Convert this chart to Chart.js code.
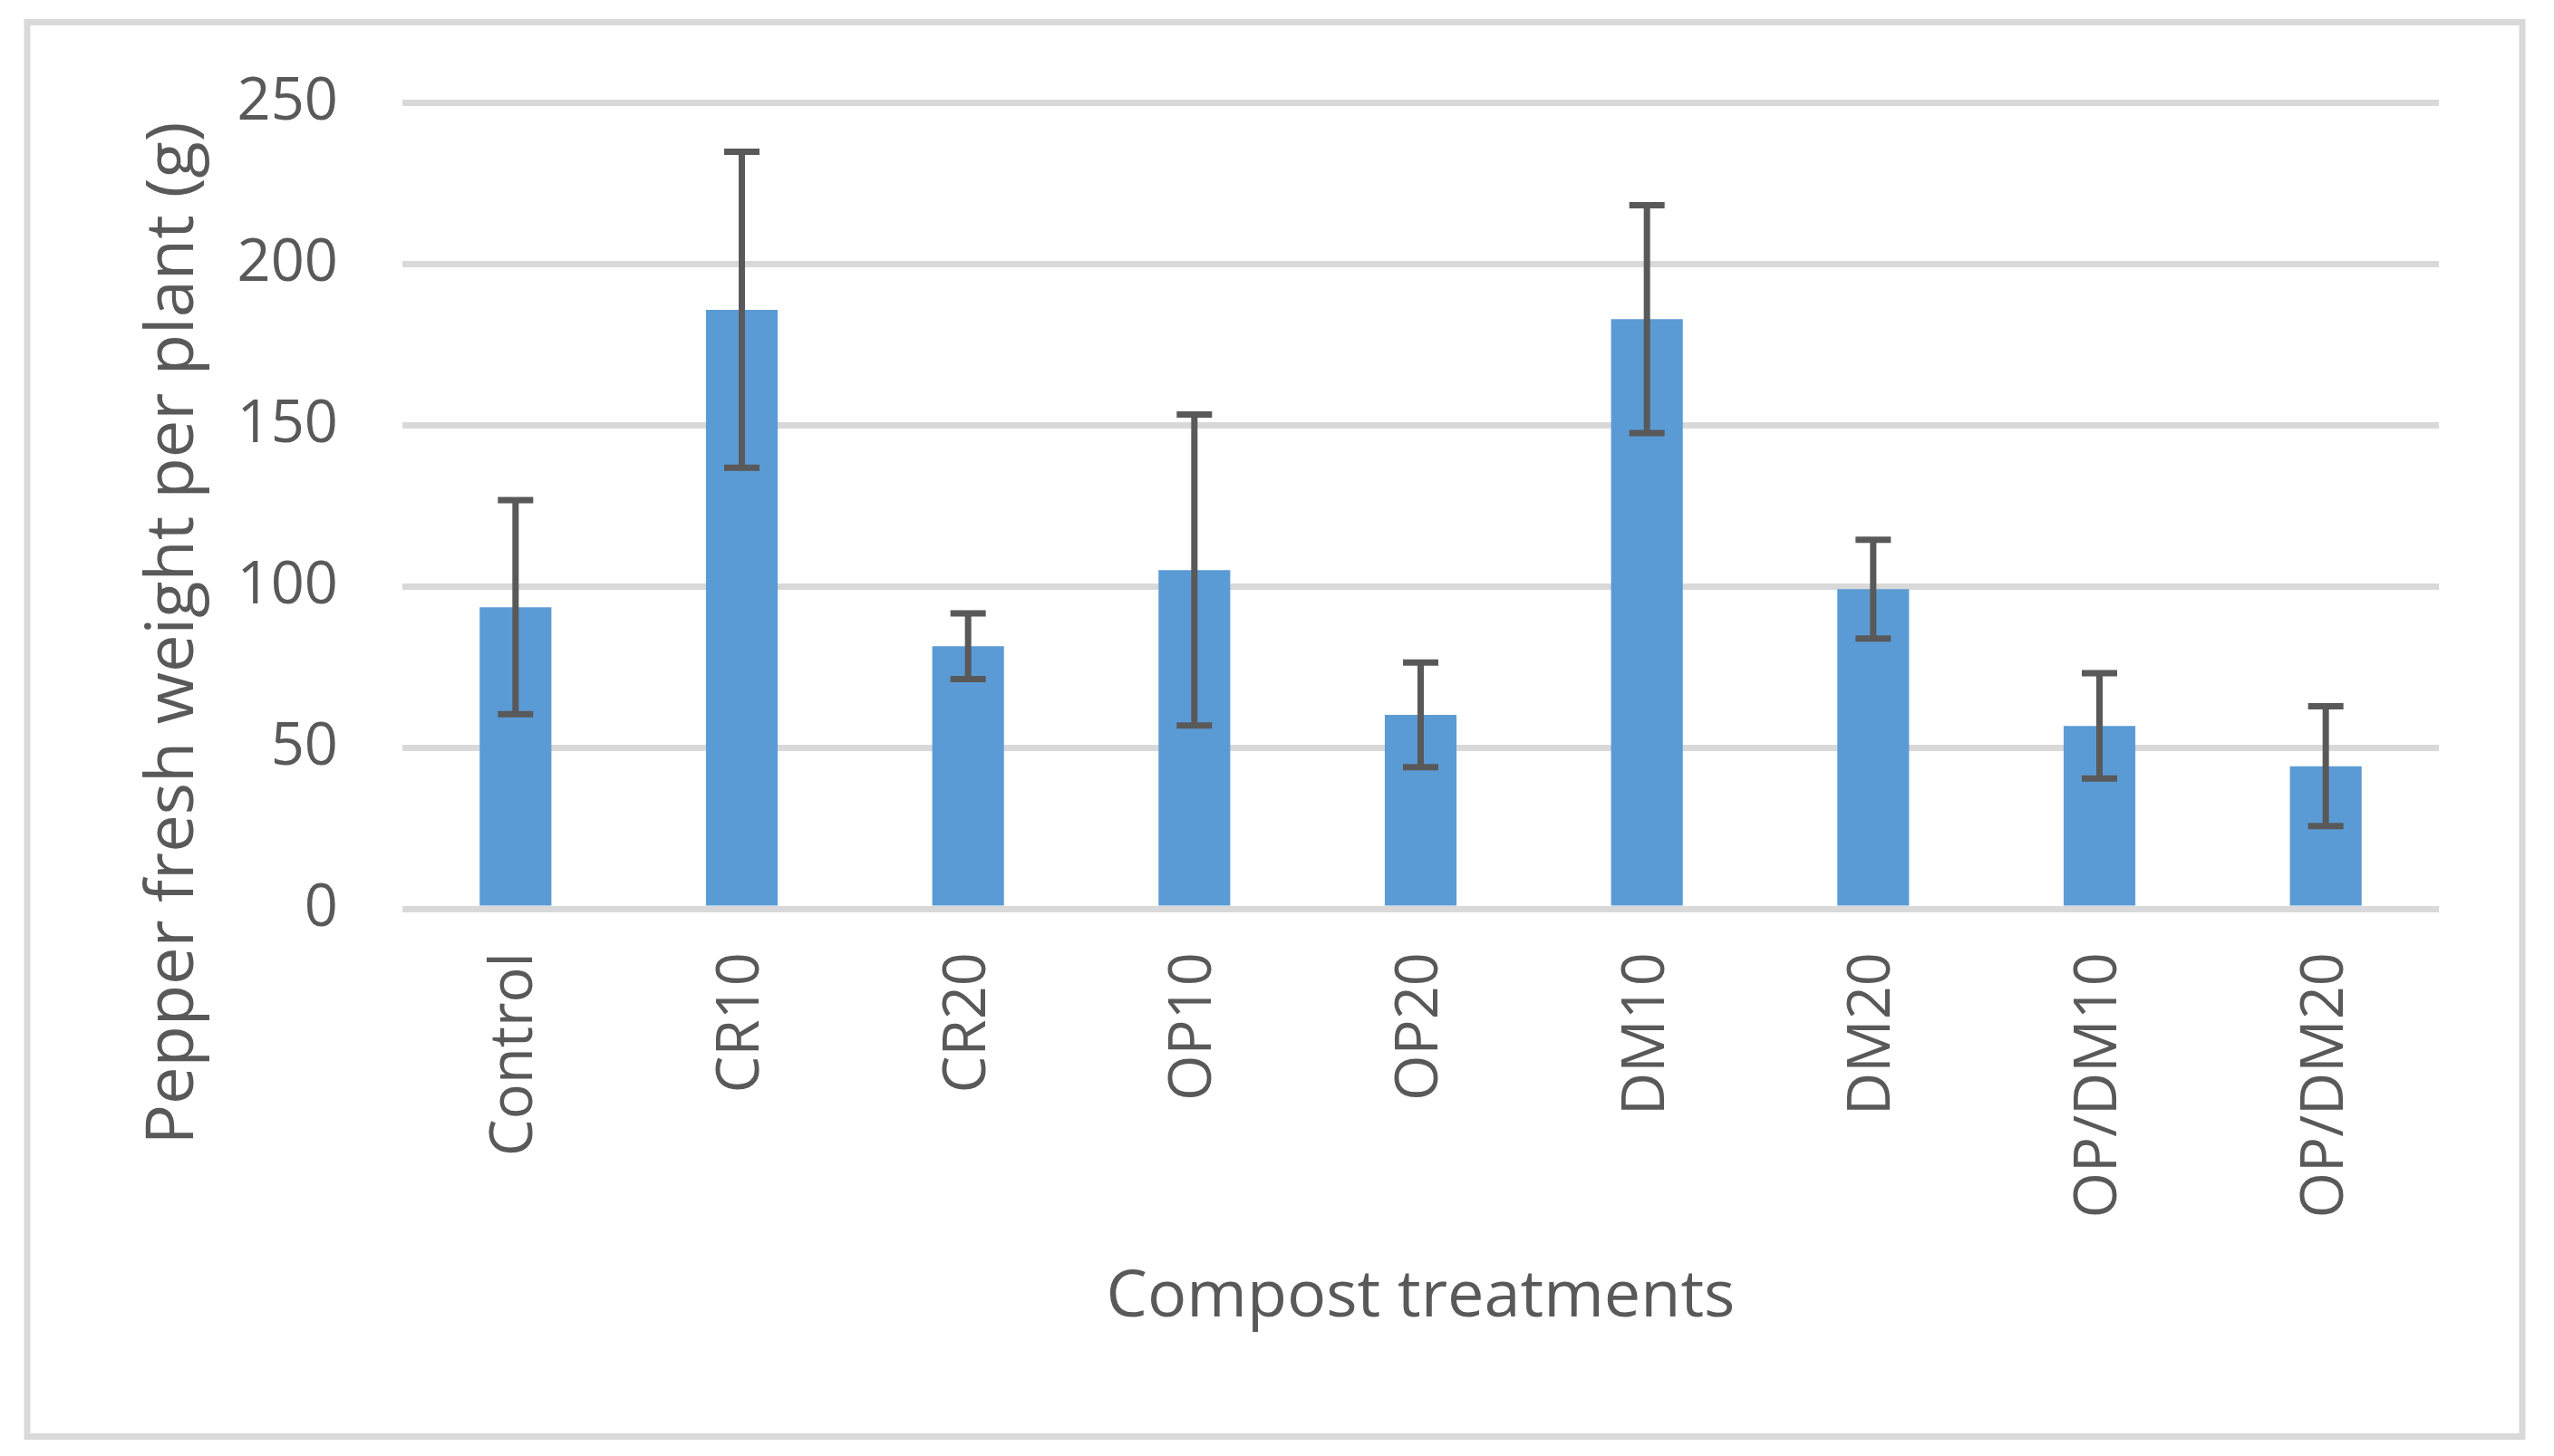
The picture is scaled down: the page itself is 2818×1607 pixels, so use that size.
<!DOCTYPE html>
<html><head><meta charset="utf-8">
<script src="https://cdn.jsdelivr.net/npm/chart.js@4/dist/chart.umd.min.js"></script>
<style>html,body{margin:0;padding:0;background:#fff;overflow:hidden}#wrap{width:2818px;height:1607px;position:relative}</style>
</head><body><div id="wrap"><canvas id="c" width="2818" height="1607"></canvas></div>
<script>
const categories = ['Control','CR10','CR20','OP10','OP20','DM10','DM20','OP/DM10','OP/DM20'];
const meanWeight = [93.5,185.7,81.4,105.0,60.1,182.8,99.1,56.7,44.2];
const errorSD = [33.2,49.0,10.2,48.2,16.2,35.3,15.3,16.3,18.6];
const yTicks = [0,50,100,150,200,250];
const yTitle = 'Pepper fresh weight per plant (g)';
const xTitle = 'Compost treatments';

const FONT = "'Open Sans', 'DejaVu Sans', sans-serif";
const TXT = '#595959';

const framePlugin = {
  id: 'frame',
  beforeDraw(chart) {
    const ctx = chart.ctx;
    ctx.save();
    ctx.fillStyle = '#ffffff';
    ctx.fillRect(0, 0, chart.width, chart.height);
    ctx.strokeStyle = '#d9d9d9';
    ctx.lineWidth = 7;
    ctx.strokeRect(30, 24.5, 2753, 1561);
    ctx.restore();
  },
  afterDraw(chart) {
    const ctx = chart.ctx;
    ctx.save();
    ctx.translate(192, 699);
    ctx.rotate(-Math.PI / 2);
    ctx.font = "74px " + FONT;
    ctx.fillStyle = TXT;
    ctx.textAlign = 'center';
    ctx.textBaseline = 'middle';
    ctx.fillText(yTitle, 0, 0);
    ctx.restore();
  }
};

const errorBarPlugin = {
  id: 'errorBars',
  afterDatasetsDraw(chart) {
    const ctx = chart.ctx;
    const meta = chart.getDatasetMeta(0);
    const ys = chart.scales.y;
    ctx.save();
    ctx.strokeStyle = '#595959';
    ctx.lineWidth = 7;
    ctx.lineCap = 'butt';
    meta.data.forEach((el, i) => {
      const x = el.x;
      const top = ys.getPixelForValue(meanWeight[i] + errorSD[i]);
      const bot = ys.getPixelForValue(meanWeight[i] - errorSD[i]);
      const hw = 19.5;
      ctx.beginPath();
      ctx.moveTo(x, top); ctx.lineTo(x, bot);
      ctx.moveTo(x - hw, top); ctx.lineTo(x + hw, top);
      ctx.moveTo(x - hw, bot); ctx.lineTo(x + hw, bot);
      ctx.stroke();
    });
    ctx.restore();
  }
};

new Chart(document.getElementById('c'), {
  type: 'bar',
  data: {
    labels: categories,
    datasets: [{
      data: meanWeight,
      backgroundColor: '#5b9bd5',
      borderWidth: 0,
      barPercentage: 0.317,
      categoryPercentage: 1.0
    }]
  },
  options: {
    responsive: false,
    animation: false,
    devicePixelRatio: 1,
    layout: { padding: { top: 113, right: 127, bottom: 0, left: 0 } },
    plugins: { legend: { display: false }, tooltip: { enabled: false } },
    scales: {
      x: {
        grid: { display: false, drawTicks: false },
        border: { display: false },
        ticks: {
          minRotation: 90, maxRotation: 90, padding: 48, autoSkip: false,
          color: TXT, font: { family: FONT, size: 65 }
        },
        title: {
          display: true, text: xTitle, color: TXT,
          font: { family: FONT, size: 72 },
          padding: { top: 0, bottom: 131 }
        },
        afterFit(scale) { scale.height = 604; }
      },
      y: {
        min: 0, max: 250,
        afterBuildTicks(scale) { scale.ticks = yTicks.map(v => ({ value: v })); },
        grid: { color: '#d9d9d9', lineWidth: 7, drawTicks: false },
        border: { display: false },
        ticks: { padding: 71, color: TXT, font: { family: FONT, size: 65 } },
        afterFit(scale) { scale.width = 444; }
      }
    }
  },
  plugins: [framePlugin, errorBarPlugin]
});
</script></body></html>
